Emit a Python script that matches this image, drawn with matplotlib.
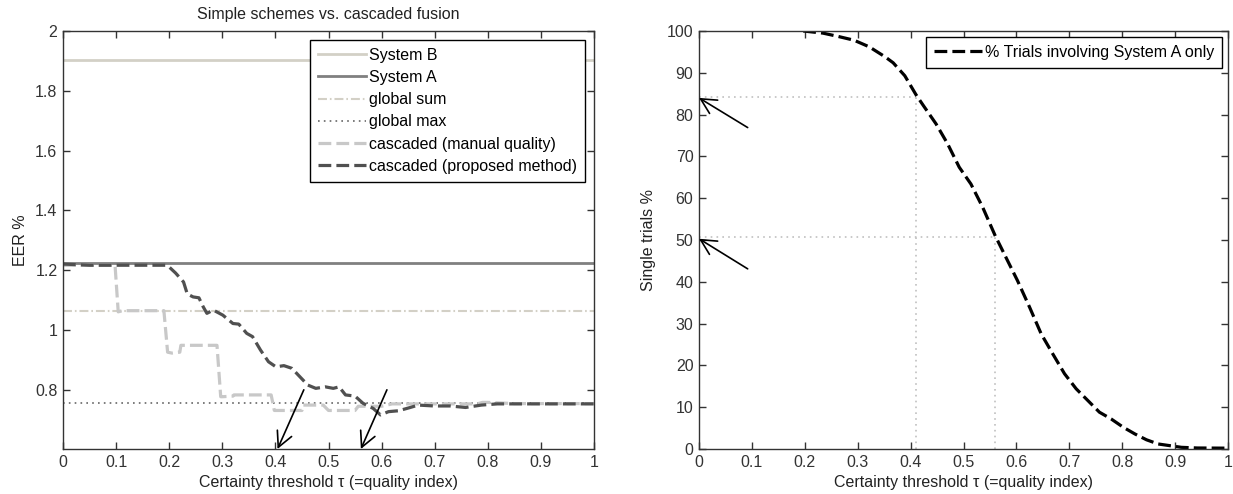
import matplotlib
matplotlib.use("Agg")
import matplotlib.pyplot as plt
from matplotlib.ticker import FuncFormatter, MultipleLocator

plt.rcParams['font.family'] = ['Liberation Sans', 'DejaVu Sans']

# ---- data (left panel) ----
eer_system_b = 1.904
eer_system_a = 1.222
eer_global_sum = 1.064
eer_global_max = 0.754

manual_x = [0.0, 0.098, 0.104, 0.112, 0.19, 0.197, 0.205, 0.22, 0.222, 0.29, 0.297,
            0.30, 0.32, 0.322, 0.392, 0.398, 0.45, 0.452, 0.49, 0.50, 0.55, 0.556,
            0.60, 0.62, 0.70, 0.78, 0.79, 0.80, 0.85, 1.0]
manual_y = [1.216, 1.216, 1.06, 1.064, 1.064, 0.925, 0.922, 0.925, 0.948, 0.948, 0.776,
            0.776, 0.778, 0.782, 0.782, 0.73, 0.73, 0.748, 0.748, 0.73, 0.73, 0.744,
            0.744, 0.752, 0.752, 0.752, 0.757, 0.757, 0.753, 0.753]

proposed_x = [0.0, 0.05, 0.10, 0.193, 0.20, 0.212, 0.227, 0.234, 0.245, 0.256, 0.264,
              0.271, 0.283, 0.301, 0.32, 0.331, 0.346, 0.357, 0.372, 0.387, 0.401,
              0.416, 0.431, 0.446, 0.461, 0.476, 0.494, 0.509, 0.52, 0.532, 0.55,
              0.565, 0.584, 0.598, 0.613, 0.632, 0.654, 0.669, 0.699, 0.729, 0.758,
              0.788, 0.818, 0.90, 1.0]
proposed_y = [1.22, 1.216, 1.216, 1.216, 1.21, 1.19, 1.16, 1.12, 1.11, 1.107, 1.077,
              1.055, 1.066, 1.049, 1.021, 1.019, 0.988, 0.977, 0.932, 0.893, 0.876,
              0.880, 0.871, 0.843, 0.815, 0.804, 0.809, 0.804, 0.809, 0.782, 0.778,
              0.754, 0.737, 0.715, 0.726, 0.729, 0.740, 0.748, 0.745, 0.745, 0.740,
              0.748, 0.752, 0.752, 0.752]

# ---- data (right panel) ----
single_x = [0.197, 0.234, 0.263, 0.293, 0.322, 0.352, 0.367, 0.389, 0.41, 0.425, 0.448,
            0.47, 0.492, 0.514, 0.536, 0.56, 0.58, 0.602, 0.625, 0.647, 0.669, 0.691,
            0.713, 0.735, 0.757, 0.779, 0.802, 0.824, 0.846, 0.868, 0.89, 0.912,
            0.942, 1.0]
single_y = [100, 99.5, 98.7, 97.8, 96.2, 93.8, 92.4, 89.3, 84.8, 82.0, 77.8,
            73.0, 67.4, 63.4, 57.9, 51.0, 45.9, 40.3, 33.9, 27.5, 22.7, 18.0,
            14.4, 11.6, 8.8, 7.2, 5.2, 3.6, 2.2, 1.2, 0.8, 0.4,
            0.24, 0.2]
guide_x = [0.41, 0.56]
guide_y = [84.2, 50.6]

FS = 11.5
TXT = '#222222'
fig = plt.figure(figsize=(12.33, 4.94), dpi=100)
ax1 = fig.add_axes([63/1233, 45/494, 531/1233, 418/494])
ax2 = fig.add_axes([699/1233, 45/494, 529/1233, 418/494])

fmt = FuncFormatter(lambda v, p: '%g' % round(v, 6))
dash = (0, (4, 1.6))
arrow_kw = dict(arrowstyle='->,head_length=0.55,head_width=0.28', lw=1.2,
                color='black', mutation_scale=20, shrinkA=0, shrinkB=0)

# Left panel
ax1.axhline(eer_system_b, color='#d3d0c6', lw=2, label='System B')
ax1.axhline(eer_system_a, color='#808080', lw=2, label='System A')
ax1.axhline(eer_global_sum, color='#d3d0c6', lw=1.5, ls=(0, (4.3, 1.4, 0.8, 1.4)), label='global sum')
ax1.axhline(eer_global_max, color='#666666', lw=1.2, ls=(0, (1, 2.5)), label='global max')
ax1.plot(manual_x, manual_y, color='#c8c8c8', lw=2.3, ls=dash, label='cascaded (manual quality)')
ax1.plot(proposed_x, proposed_y, color='#505050', lw=2.3, ls=dash, label='cascaded (proposed method)')

ax1.set_xlim(0, 1)
ax1.set_ylim(0.601, 2)
ax1.set_yticks([0.8, 1.0, 1.2, 1.4, 1.6, 1.8, 2.0])
ax1.xaxis.set_major_locator(MultipleLocator(0.1))
ax1.xaxis.set_major_formatter(fmt)
ax1.yaxis.set_major_formatter(fmt)
ax1.set_title('Simple schemes vs. cascaded fusion', fontsize=FS, color=TXT, pad=9)
ax1.set_ylabel('EER %', fontsize=FS, color=TXT, labelpad=5)
ax1.set_xlabel('Certainty threshold τ (=quality index)', fontsize=FS, color=TXT, labelpad=4)

ax1.annotate('', xy=(0.404, 0.601), xytext=(0.4535, 0.799), arrowprops=arrow_kw)
ax1.annotate('', xy=(0.561, 0.601), xytext=(0.61, 0.799), arrowprops=arrow_kw)

leg1 = ax1.legend(loc='upper right', fontsize=FS, frameon=True, fancybox=False,
                  framealpha=1, edgecolor='black', borderaxespad=0.55,
                  handlelength=3.0, handletextpad=0.2, labelspacing=0.45,
                  borderpad=0.5)
leg1.get_frame().set_linewidth(1.0)

# Right panel
for gx, gy in zip(guide_x, guide_y):
    ax2.plot([0, gx], [gy, gy], color='#c0c0c0', lw=1.2, ls=(0, (1, 2.5)))
    ax2.plot([gx, gx], [0, gy], color='#c0c0c0', lw=1.2, ls=(0, (1, 2.5)))
ax2.plot(single_x, single_y, color='black', lw=2.3, ls=dash,
         label='% Trials involving System A only')
ax2.annotate('', xy=(0.0, 84.0), xytext=(0.092, 76.9), arrowprops=arrow_kw)
ax2.annotate('', xy=(0.0, 50.3), xytext=(0.092, 43.1), arrowprops=arrow_kw)
ax2.set_xlim(0, 1)
ax2.set_ylim(0, 100)
ax2.xaxis.set_major_locator(MultipleLocator(0.1))
ax2.yaxis.set_major_locator(MultipleLocator(10))
ax2.xaxis.set_major_formatter(fmt)
ax2.yaxis.set_major_formatter(fmt)
ax2.set_ylabel('Single trials %', fontsize=FS, color=TXT, labelpad=8)
ax2.set_xlabel('Certainty threshold τ (=quality index)', fontsize=FS, color=TXT, labelpad=4)
leg2 = ax2.legend(loc='upper right', fontsize=FS, frameon=True, fancybox=False,
                  framealpha=1, edgecolor='black', borderaxespad=0.35,
                  handlelength=3.0, handletextpad=0.2, borderpad=0.5)
leg2.get_frame().set_linewidth(1.0)

for ax in (ax1, ax2):
    ax.tick_params(direction='in', top=True, right=True, length=5, width=1,
                   labelsize=FS, colors='#333333', pad=4)
    for s in ax.spines.values():
        s.set_color('#333333')
        s.set_linewidth(1.0)

fig.savefig('out.png', dpi=100)
